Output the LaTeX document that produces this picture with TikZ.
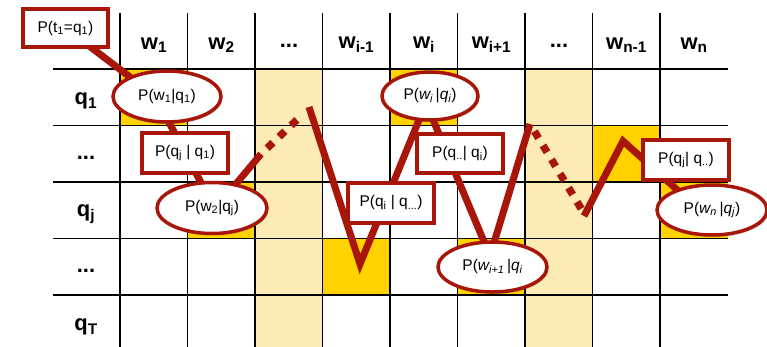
\documentclass[tikz,border=0pt]{standalone}
\usepackage{fontspec}
\setmainfont{Liberation Sans}
\usetikzlibrary{shapes.geometric,shadows}
\definecolor{myred}{RGB}{168,22,10}
\definecolor{lightyel}{RGB}{253,235,182}
\definecolor{goldc}{RGB}{255,210,0}
\pgfdeclarelayer{back}
\pgfdeclarelayer{mid}
\pgfsetlayers{back,mid,main}
\begin{document}
\begin{tikzpicture}[x=1pt,y=-1pt,
  redline/.style={draw=myred,line width=7pt},
  dotline/.style={draw=myred,line width=7.5pt,dash pattern=on 8pt off 8.5pt,dash phase=8pt},
  shad/.style={drop shadow={opacity=0.35,shadow xshift=1.5pt,shadow yshift=-2pt}},
  probbox/.style={rectangle,draw=myred,line width=3.5pt,fill=white,minimum width=86pt,minimum height=40pt,inner sep=0pt,font=\fontsize{15.5}{18}\selectfont,shad},
  probell/.style={ellipse,draw=myred,line width=3.5pt,fill=white,minimum width=108pt,minimum height=51pt,inner sep=0pt,font=\fontsize{15.5}{18}\selectfont,shad},
  hdr/.style={font=\fontsize{22}{26}\selectfont\bfseries,inner sep=0pt},
  gridline/.style={draw=black,line width=1.4pt}]
\useasboundingbox (0,0) rectangle (767,346);
\clip (0,0) rectangle (767,346);

% nodes
\node[probbox,minimum width=85pt,minimum height=38pt] (box1) at (65.5,28) {P(t\textsubscript{1}=q\textsubscript{1})};
\node[probell] (e1) at (167,96.5) {P(w\textsubscript{1}|q\textsubscript{1})};
\node[probbox] (b2) at (185,153) {P(q\textsubscript{j} | q\textsubscript{1})};
\node[probell,minimum width=110pt] (e2) at (212,208) {P(w\textsubscript{2}|q\textsubscript{j})};
\node[probbox] (b3) at (391,203) {P(q\textsubscript{i} | q\textsubscript{...})};
\node[probell,minimum width=96pt,minimum height=48pt] (e3) at (430,96) {P(\textit{w\textsubscript{i}}\,|\textit{q\textsubscript{i}})};
\node[probbox,minimum height=39pt] (b4) at (460,153.5) {P(q\textsubscript{..}| q\textsubscript{i})};
\node[probell,minimum width=109pt,minimum height=50pt] (e4) at (492.5,267) {P(\textit{w\textsubscript{i+1}}\,|\textit{q\textsubscript{i}}};
\node[probbox] (b5) at (686,160) {P(q\textsubscript{j}| q\textsubscript{..})};
\node[probell,minimum width=110pt,minimum height=50pt] (e5) at (712,210) {P(\textit{w\textsubscript{n}}\,|\textit{q\textsubscript{j}})};

% header labels
\node[hdr] (h1) at (154,45) {w\textsubscript{1}};
\node[hdr] (h2) at (221.5,45) {w\textsubscript{2}};
\node[hdr] (h3) at (289,46) {...};
\node[hdr] (h4) at (356.5,45) {w\textsubscript{i-1}};
\node[hdr] (h5) at (424,45) {w\textsubscript{i}};
\node[hdr] (h6) at (491.5,45) {w\textsubscript{i+1}};
\node[hdr] (h7) at (559,46) {...};
\node[hdr] (h8) at (626.5,45) {w\textsubscript{n-1}};
\node[hdr] (h9) at (694,45) {w\textsubscript{n}};
% row labels
\node[hdr] (r1) at (86,101) {q\textsubscript{1}};
\node[hdr] (r2) at (86,158) {...};
\node[hdr] (r3) at (86,214) {q\textsubscript{j}};
\node[hdr] (r4) at (86,271) {...};
\node[hdr] (r5) at (86,327) {q\textsubscript{T}};

% path corners
\coordinate (a1) at (155,96);
\coordinate (a2) at (215,209);
\coordinate (a3) at (261,154);
\coordinate (a4) at (302,115);
\coordinate (a5) at (309,107);
\coordinate (a6) at (360,264);
\coordinate (a7) at (426,103);
\coordinate (a8) at (490,256);
\coordinate (a9) at (530,124);
\coordinate (a10) at (582,210);
\coordinate (a11) at (584,216);
\coordinate (a12) at (623,141);
\coordinate (a13) at (695,206);

\begin{pgfonlayer}{back}
  \fill[lightyel] (255,69) rectangle (322.5,352);
  \fill[lightyel] (525,69) rectangle (592.5,352);
  \fill[goldc] (120,69) rectangle (187.5,125.5);
  \fill[goldc] (187.5,182) rectangle (255,238.5);
  \fill[goldc] (322.5,238.5) rectangle (390,295);
  \fill[goldc] (390,69) rectangle (457.5,125.5);
  \fill[goldc] (457.5,238.5) rectangle (525,295);
  \fill[goldc] (592.5,125.5) rectangle (660,182);
  \fill[goldc] (660,182) rectangle (727.5,238.5);
  \foreach \x in {120,187.5,255,322.5,390,457.5,525,592.5,660}
    \draw[gridline] (\x,13) -- (\x,352);
  \foreach \y in {69,125.5,182,238.5,295}
    \draw[gridline] (53,\y) -- (727.5,\y);
\end{pgfonlayer}

\begin{pgfonlayer}{mid}
  \draw[redline] (box1.center) -- (a1) -- (a2) -- (a3);
  \draw[dotline] (a3) -- (a4);
  \draw[redline] (a5) -- (a6) -- (a7) -- (a8) -- (a9);
  \draw[dotline] (a9) -- (a10);
  \draw[redline] (a11) -- (a12) -- (a13);
\end{pgfonlayer}
\end{tikzpicture}
\end{document}
